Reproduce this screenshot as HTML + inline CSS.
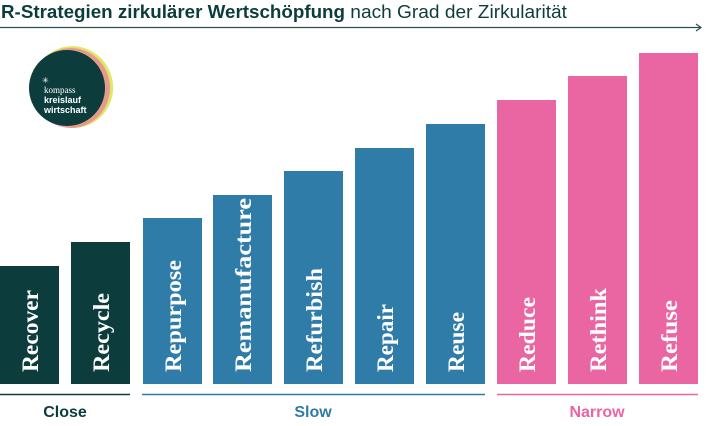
<!DOCTYPE html>
<html><head><meta charset="utf-8"><style>
html,body{margin:0;padding:0;background:#fff;width:710px;height:426px;overflow:hidden}
</style></head><body>
<svg width="710" height="426" viewBox="0 0 710 426" xmlns="http://www.w3.org/2000/svg">
<text x="1" y="18" font-family="Liberation Sans, sans-serif" font-size="18" fill="#0d3c3c"><tspan font-weight="bold" textLength="344" lengthAdjust="spacingAndGlyphs">R-Strategien zirkulärer Wertschöpfung</tspan><tspan textLength="222" lengthAdjust="spacingAndGlyphs"> nach Grad der Zirkularität</tspan></text>
<line x1="0" y1="27.5" x2="700" y2="27.5" stroke="#2d5050" stroke-width="1.3"/>
<polyline points="696,24 701,27.5 696,31" fill="none" stroke="#2d5050" stroke-width="1.2"/>
<g>
<ellipse cx="73" cy="87" rx="40" ry="41" fill="#dfe86a" transform="rotate(-20 73 87)"/>
<ellipse cx="71" cy="88" rx="39" ry="40" fill="#e966a3" opacity="0.6"/>
<circle cx="67" cy="88" r="38" fill="#0d3c3c"/>
<text x="42" y="83" font-family="Liberation Sans, sans-serif" font-size="8" fill="#fff">✳</text>
<text x="44" y="93" font-family="Liberation Serif, serif" font-size="9" fill="#fff">kompass</text>
<text x="44" y="103" font-family="Liberation Sans, sans-serif" font-size="9" font-weight="bold" fill="#fff">kreislauf</text>
<text x="44" y="113" font-family="Liberation Sans, sans-serif" font-size="9" font-weight="bold" fill="#fff">wirtschaft</text>
</g>
<g font-family="Liberation Serif, serif" font-size="23" font-weight="bold" fill="#fff">
<rect x="0" y="266" width="59" height="118" fill="#0d3c3c"/>
<rect x="71" y="242" width="59" height="142" fill="#0d3c3c"/>
<rect x="143" y="218" width="59" height="166" fill="#2f7ca8"/>
<rect x="213" y="195" width="59" height="189" fill="#2f7ca8"/>
<rect x="284" y="171" width="59" height="213" fill="#2f7ca8"/>
<rect x="355" y="148" width="59" height="236" fill="#2f7ca8"/>
<rect x="426" y="124" width="59" height="260" fill="#2f7ca8"/>
<rect x="497" y="100" width="59" height="284" fill="#e966a3"/>
<rect x="568" y="76" width="59" height="308" fill="#e966a3"/>
<rect x="639" y="53" width="59" height="331" fill="#e966a3"/>
<text transform="translate(38,372) rotate(-90)" textLength="82" lengthAdjust="spacingAndGlyphs">Recover</text>
<text transform="translate(109,372) rotate(-90)" textLength="79" lengthAdjust="spacingAndGlyphs">Recycle</text>
<text transform="translate(181,372) rotate(-90)" textLength="112" lengthAdjust="spacingAndGlyphs">Repurpose</text>
<text transform="translate(251,372) rotate(-90)" textLength="174" lengthAdjust="spacingAndGlyphs">Remanufacture</text>
<text transform="translate(322,372) rotate(-90)" textLength="104" lengthAdjust="spacingAndGlyphs">Refurbish</text>
<text transform="translate(393,372) rotate(-90)" textLength="68" lengthAdjust="spacingAndGlyphs">Repair</text>
<text transform="translate(464,372) rotate(-90)" textLength="60" lengthAdjust="spacingAndGlyphs">Reuse</text>
<text transform="translate(535,372) rotate(-90)" textLength="75" lengthAdjust="spacingAndGlyphs">Reduce</text>
<text transform="translate(606,372) rotate(-90)" textLength="84" lengthAdjust="spacingAndGlyphs">Rethink</text>
<text transform="translate(677,372) rotate(-90)" textLength="72" lengthAdjust="spacingAndGlyphs">Refuse</text>
</g>
<line x1="0" y1="394.5" x2="130" y2="394.5" stroke="#0d3c3c" stroke-width="1.5"/>
<line x1="142" y1="394.5" x2="485" y2="394.5" stroke="#2f7ca8" stroke-width="1.5"/>
<line x1="497" y1="394.5" x2="698" y2="394.5" stroke="#e966a3" stroke-width="1.5"/>
<g font-family="Liberation Sans, sans-serif" font-size="16" font-weight="bold" text-anchor="middle">
<text x="65" y="417" fill="#0d3c3c">Close</text>
<text x="313" y="417" fill="#2f7ca8">Slow</text>
<text x="597" y="417" fill="#e966a3">Narrow</text>
</g>
</svg>
</body></html>
